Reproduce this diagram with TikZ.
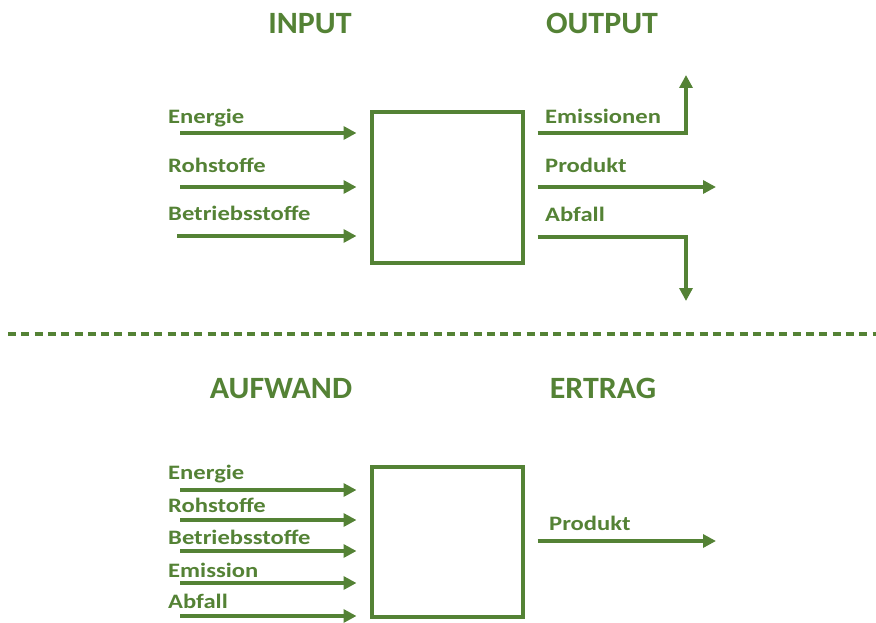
\documentclass[tikz,border=0pt]{standalone}
\usepackage{fontspec}
\setmainfont{Carlito}
\newfontfamily\lblfont[FakeStretch=1.2]{Carlito}
\newfontfamily\hdrfont[FakeStretch=1.03]{Carlito}
\usetikzlibrary{arrows.meta,calc}
\definecolor{gr}{RGB}{84,130,53}
\begin{document}
\begin{tikzpicture}[x=1pt,y=-1pt,
  lbl/.style={anchor=base west,inner sep=0pt,text=gr,font=\lblfont\bfseries\fontsize{20.5}{24}\selectfont},
  hdr/.style={anchor=base,inner sep=0pt,text=gr,font=\hdrfont\bfseries\fontsize{31}{36}\selectfont},
  proc/.style={draw=gr,line width=4pt,minimum width=151pt,minimum height=150pt,inner sep=0pt},
  arr/.style={draw=gr,line width=4pt,-{Triangle[length=13pt,width=13pt]}},
  dash line/.style={draw=gr,line width=3.2pt,dash pattern=on 8pt off 5.3pt}]
\useasboundingbox (0,0) rectangle (876,623);
% headers
\node[hdr] (hin) at (310,34) {INPUT};
\node[hdr] (hout) at (602,34) {OUTPUT};
\node[hdr] (hauf) at (281,398) {AUFWAND};
\node[hdr] (hert) at (603,398) {ERTRAG};
% top process
\node[proc] (p1) at (447,187.5) {};
\node[lbl] (l1) at (168,124) {Energie};
\node[lbl] (l2) at (168,172) {Rohstoffe};
\node[lbl] (l3) at (168,221) {Betriebsstoffe};
\coordinate (s1) at (180,133);
\coordinate (s2) at (180,187);
\coordinate (s3) at (177,236);
\draw[arr] (s1) -- ([xshift=-13pt]p1.west |- s1);
\draw[arr] (s2) -- ([xshift=-13pt]p1.west |- s2);
\draw[arr] (s3) -- ([xshift=-13pt]p1.west |- s3);
\node[lbl] (o1) at (545,124) {Emissionen};
\node[lbl] (o2) at (545,172) {Produkt};
\node[lbl] (o3) at (545,222) {Abfall};
\coordinate (e1) at (686,75);
\coordinate (e2) at (716,187);
\coordinate (e3) at (686,301);
\draw[arr] ([xshift=13pt]p1.east |- 0,133) -| (e1);
\draw[arr] ([xshift=13pt]p1.east |- e2) -- (e2);
\draw[arr] ([xshift=13pt]p1.east |- 0,237) -| (e3);
% separator
\coordinate (dl) at (8,334);
\coordinate (dr) at (876,334);
\draw[dash line] (dl) -- (dr);
% bottom process
\node[proc] (p2) at (447,542) {};
\node[lbl] (b1) at (168,479) {Energie};
\node[lbl] (b2) at (168,512) {Rohstoffe};
\node[lbl] (b3) at (168,544) {Betriebsstoffe};
\node[lbl] (b4) at (168,577) {Emission};
\node[lbl] (b5) at (168,608) {Abfall};
\coordinate (t1) at (180,490);
\coordinate (t2) at (180,520);
\coordinate (t3) at (180,551);
\coordinate (t4) at (180,583);
\coordinate (t5) at (180,616);
\foreach \i in {1,...,5}{\draw[arr] (t\i) -- ([xshift=-13pt]p2.west |- t\i);}
\node[lbl] (bo) at (549,530) {Produkt};
\coordinate (f1) at (716,541);
\draw[arr] ([xshift=13pt]p2.east |- f1) -- (f1);
\end{tikzpicture}
\end{document}
